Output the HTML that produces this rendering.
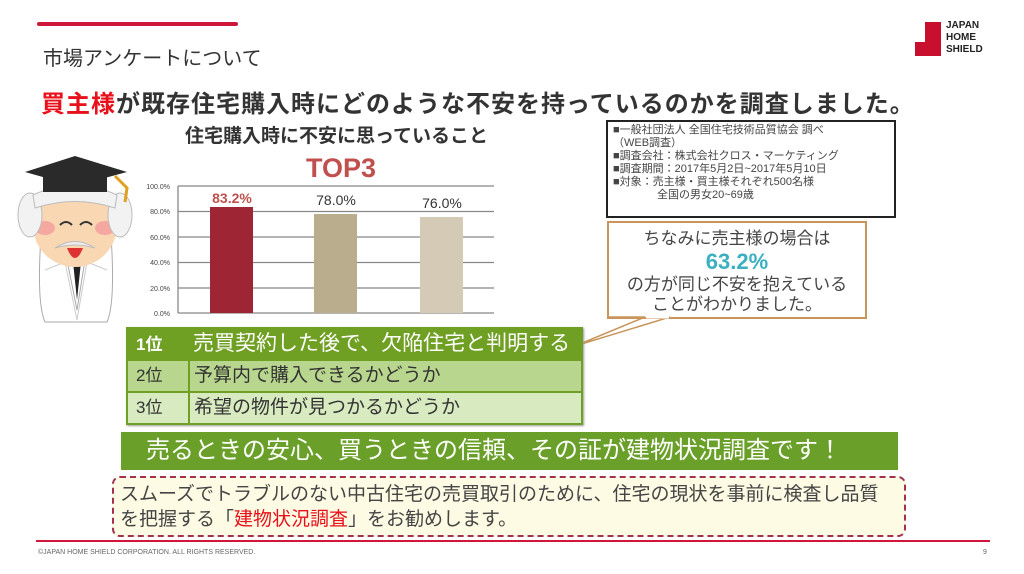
<!DOCTYPE html>
<html><head><meta charset="utf-8"><style>
body{margin:0;width:1024px;height:574px;background:#fff;position:relative;overflow:hidden;font-family:"Liberation Sans","Noto Sans CJK JP",sans-serif;color:#333}
.a{position:absolute;white-space:nowrap}
</style></head><body>
<div class="a" style="left:37px;top:22px;width:201px;height:4px;background:#d0163a;border-radius:2px"></div>
<div class="a" style="left:43px;top:42px;font-size:20px;color:#333">市場アンケートについて</div>
<div class="a" style="left:41px;top:84px;font-size:24px;font-weight:bold;color:#333;letter-spacing:1px"><span style="color:#e8101a">買主様</span>が既存住宅購入時にどのような不安を持っているのかを調査しました。</div>
<!-- logo -->
<svg class="a" style="left:912px;top:20px" width="32" height="38"><path d="M13 2h16v34H3V22h10z" fill="#c8102e"/></svg>
<div class="a" style="left:946px;top:20px;font-size:10px;font-weight:bold;line-height:12px;color:#222">JAPAN<br>HOME<br>SHIELD</div>
<!-- professor -->
<svg class="a" style="left:15px;top:150px" width="120" height="175">
<path d="M28 60 Q20 150 30 172 L92 172 Q102 150 94 60Z" fill="#fff" stroke="#aaa"/>
<path d="M52 110 L62 160 L70 110Z" fill="#fff" stroke="#aaa"/>
<path d="M58 112 L62 150 L66 112Z" fill="#222"/>
<path d="M30 120 L50 112 L62 170 M92 120 L72 112 L62 170" fill="none" stroke="#ccc"/>
<ellipse cx="60" cy="75" rx="42" ry="42" fill="#f9d7b3"/>
<ellipse cx="30" cy="78" rx="10" ry="7" fill="#f4a8a0"/><ellipse cx="90" cy="78" rx="10" ry="7" fill="#f4a8a0"/>
<ellipse cx="15" cy="65" rx="12" ry="22" fill="#f2f2f2" stroke="#bbb"/><ellipse cx="105" cy="65" rx="12" ry="22" fill="#f2f2f2" stroke="#bbb"/>
<path d="M18 45 Q60 25 102 45 L100 58 Q60 45 20 58Z" fill="#f2f2f2" stroke="#bbb"/>
<path d="M45 75 q6 -6 12 0 M65 75 q6 -6 12 0" stroke="#333" stroke-width="2" fill="none"/>
<path d="M40 98 Q60 85 80 98 Q60 92 40 98Z" fill="#eee" stroke="#bbb"/>
<path d="M52 98 Q60 118 68 98Z" fill="#d33"/>
<path d="M10 22 L60 6 L112 22 L60 36Z" fill="#2a2a2a"/><rect x="28" y="24" width="64" height="18" fill="#2a2a2a"/>
<path d="M100 26 L112 38 L110 52" stroke="#e0a020" stroke-width="3" fill="none"/>
</svg>
<!-- chart -->
<div class="a" style="left:185px;top:121px;font-size:19px;font-weight:bold;color:#333">住宅購入時に不安に思っていること</div>
<div class="a" style="left:306px;top:153px;font-size:27px;font-weight:bold;color:#c0504d">TOP3</div>
<svg class="a" style="left:130px;top:180px" width="380" height="140" font-family="Liberation Sans" font-size="7" fill="#444">
<g stroke="#888" stroke-width="1.3">
<line x1="48" y1="6" x2="364" y2="6"/><line x1="48" y1="31.5" x2="364" y2="31.5"/><line x1="48" y1="57" x2="364" y2="57"/><line x1="48" y1="82.5" x2="364" y2="82.5"/><line x1="48" y1="108" x2="364" y2="108"/><line x1="48" y1="133" x2="364" y2="133"/><line x1="48" y1="6" x2="48" y2="133"/></g>
<text x="40" y="9" text-anchor="end">100.0%</text><text x="40" y="34" text-anchor="end">80.0%</text><text x="40" y="60" text-anchor="end">60.0%</text><text x="40" y="85" text-anchor="end">40.0%</text><text x="40" y="111" text-anchor="end">20.0%</text><text x="40" y="136" text-anchor="end">0.0%</text>
<rect x="80" y="27" width="43" height="106" fill="#9e2533"/>
<rect x="184" y="34" width="43" height="99" fill="#b9ad8e"/>
<rect x="290" y="37" width="43" height="96" fill="#d4cab5"/>
<text x="102" y="23" text-anchor="middle" font-size="14" font-weight="bold" fill="#c0504d">83.2%</text>
<text x="206" y="25" text-anchor="middle" font-size="14" fill="#333">78.0%</text>
<text x="312" y="28" text-anchor="middle" font-size="14" fill="#333">76.0%</text>
</svg>
<!-- info box -->
<div class="a" style="left:606px;top:120px;height:92px;border:2px solid #222;font-size:11px;line-height:13px;color:#444;padding:2px 0 0 5px;box-sizing:content-box;width:281px">■一般社団法人 全国住宅技術品質協会 調べ<br>（WEB調査）<br>■調査会社：株式会社クロス・マーケティング<br>■調査期間：2017年5月2日~2017年5月10日<br>■対象：売主様・買主様それぞれ500名様<br>　　　　全国の男女20~69歳</div>
<!-- callout -->
<svg class="a" style="left:570px;top:218px" width="300" height="135"><path d="M38 99 L75 99 L5 128 L100 99" fill="#fff" stroke="#c8965a" stroke-width="1.5"/><rect x="38" y="4" width="258" height="96" fill="none" stroke="#c8965a" stroke-width="2"/><line x1="76" y1="99" x2="99" y2="99" stroke="#fff" stroke-width="3"/></svg>
<div class="a" style="left:608px;top:229px;width:258px;text-align:center;font-size:17px;line-height:20px;color:#444;white-space:normal">ちなみに売主様の場合は<br><span style="color:#3ab0c0;font-size:22px;font-weight:bold;line-height:26px">63.2%</span><br>の方が同じ不安を抱えている<br>ことがわかりました。</div>
<!-- table -->
<div class="a" style="left:126px;top:327px;width:457px;height:98px;background:#6f9f23;box-shadow:1px 1px 2px #999"></div>
<div class="a" style="left:128px;top:329px;width:453px;height:30px;color:#fff;font-size:21px;line-height:30px"><b style="padding-left:8px;font-size:17px">1位</b><span style="position:absolute;left:65px">売買契約した後で、欠陥住宅と判明する</span></div>
<div class="a" style="left:128px;top:361px;width:453px;height:30px;background:#b8d68e;font-size:19px;line-height:30px;color:#333"><span style="padding-left:8px;font-size:17px">2位</span><span style="position:absolute;left:60px;top:0;height:30px;border-left:2px solid #6f9f23"></span><span style="position:absolute;left:66px">予算内で購入できるかどうか</span></div>
<div class="a" style="left:128px;top:393px;width:453px;height:30px;background:#d8eac0;font-size:19px;line-height:30px;color:#333"><span style="padding-left:8px;font-size:17px">3位</span><span style="position:absolute;left:60px;top:0;height:30px;border-left:2px solid #6f9f23"></span><span style="position:absolute;left:66px">希望の物件が見つかるかどうか</span></div>
<!-- banner -->
<div class="a" style="left:121px;top:432px;width:777px;height:38px;background:#6aa02a;color:#fff;font-size:24px;line-height:38px;padding-left:25px;box-sizing:border-box">売るときの安心、買うときの信頼、その証が建物状況調査です！</div>
<!-- dashed -->
<div class="a" style="left:112px;top:476px;width:794px;height:61px;box-sizing:border-box;background:#fdfbe4;border:2px dashed #a33050;border-radius:8px;font-size:19px;line-height:25px;padding:4px 0 0 6px;color:#444;white-space:normal">スムーズでトラブルのない中古住宅の売買取引のために、住宅の現状を事前に検査し品質<br>を把握する「<span style="color:#e8101a">建物状況調査</span>」をお勧めします。</div>
<div class="a" style="left:36px;top:540px;width:954px;height:2px;background:#d0163a"></div>
<div class="a" style="left:38px;top:549px;font-size:7px;color:#666">©JAPAN HOME SHIELD CORPORATION.  ALL RIGHTS RESERVED.</div>
<div class="a" style="left:983px;top:549px;font-size:7px;color:#666">9</div>
</body></html>
